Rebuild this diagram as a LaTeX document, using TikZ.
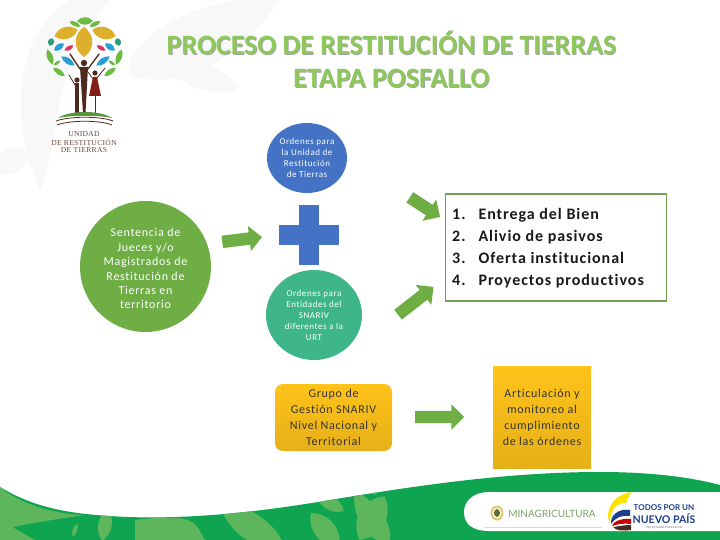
\documentclass[tikz,border=0pt]{standalone}
\usepackage{fontspec}
\setmainfont[LetterSpace=6,Ligatures=NoCommon]{Carlito}
\newfontfamily\titlefont{Carlito}
\newfontfamily\seriffont[LetterSpace=4]{Liberation Serif}
\newfontfamily\latofont{Lato}
\usetikzlibrary{shapes.arrows,shapes.geometric,shadings}
\definecolor{arrowgreen}{HTML}{6FAE45}
\definecolor{boxgreen}{HTML}{72A05A}
\definecolor{circblue}{HTML}{4472C4}
\definecolor{circteal}{HTML}{3FB58A}
\definecolor{titlegreen}{HTML}{8CC85A}
\definecolor{footgreen}{HTML}{0FA450}
\definecolor{footleaf}{HTML}{5DB55C}
\definecolor{gold}{HTML}{DDAF2A}
\definecolor{lgreen}{HTML}{6DBB45}
\definecolor{lblue}{HTML}{2A9FD6}
\definecolor{lred}{HTML}{D8345F}
\definecolor{lteal}{HTML}{2B9E78}
\definecolor{brownd}{HTML}{4E2A1E}
\definecolor{faint}{HTML}{F8F8F8}
\definecolor{navy}{HTML}{1D3E8C}
\definecolor{amber}{HTML}{FFC31A}
\newcommand{\leafshape}[6]{\fill[#6,shift={(#1,#2)},rotate=#3] (-#4,0) .. controls (-#4/2,#5) and (#4/2,#5) .. (#4,0) .. controls (#4/2,-#5) and (-#4/2,-#5) .. (-#4,0) -- cycle;}
\tikzset{
  blockarrow/.style={single arrow,fill=arrowgreen,draw=none,minimum height=#1,inner xsep=0pt,inner ysep=6pt,single arrow head extend=6.5pt,single arrow tip angle=90,outer sep=0pt,anchor=tip},
  bubble/.style={ellipse,inner sep=0pt,outer sep=0pt,text=white,align=center},
  titletext/.style={font=\titlefont\bfseries\fontsize{28}{33}\selectfont,text=titlegreen,align=center,inner sep=0pt},
  figline/.style={draw=brownd,line cap=round,line join=round},
  logotext/.style={font=\seriffont\fontsize{7.6}{8}\selectfont,text=brownd!85!white,inner sep=0pt},
  orangebox/.style={top color=amber,bottom color=amber!90!black,draw=none,align=center,inner sep=0pt,outer sep=0pt,text=black!80,font=\fontsize{12}{16}\selectfont},
}
\begin{document}
\begin{tikzpicture}[x=1pt,y=-1pt]
\useasboundingbox (0,0) rectangle (720,540);
\fill[white] (0,0) rectangle (720,540);
% faint background shapes
\fill[faint] (70,0) .. controls (20,30) and (5,110) .. (40,190) .. controls (60,150) and (50,60) .. (110,0) -- cycle;
\fill[faint] (240,0) .. controls (160,10) and (120,60) .. (130,75) .. controls (170,90) and (230,70) .. (280,0) -- cycle;
\fill[faint] (0,155) .. controls (10,145) and (20,145) .. (30,155) .. controls (20,175) and (10,175) .. (0,175) -- cycle;
\leafshape{200}{75}{-20}{40}{18}{faint}
% logo leaves
\leafshape{85}{21}{0}{8}{5}{lgreen}
\leafshape{75}{24}{-25}{6}{3}{lgreen}
\leafshape{95}{24}{25}{6}{3}{lgreen}
\leafshape{66}{33}{15}{12}{8}{gold}
\leafshape{104}{33}{-15}{12}{8}{gold}
\leafshape{84}{42}{90}{15}{11}{gold}
\leafshape{51}{42}{70}{4}{4}{lteal}
\leafshape{118}{42}{-70}{4}{4}{lteal}
\leafshape{59}{47}{35}{6}{4}{lblue}
\leafshape{110}{47}{-35}{6}{4}{lblue}
\leafshape{69}{48}{30}{5}{2.8}{lred}
\leafshape{101}{48}{-30}{5}{2.8}{lred}
\leafshape{68}{61}{-35}{8}{4}{lblue}
\leafshape{103}{61}{35}{8}{4}{lblue}
\leafshape{50}{57}{-70}{8}{4}{lgreen}
\leafshape{119}{57}{70}{8}{4}{lgreen}
\leafshape{59}{72}{-35}{7}{3.5}{lgreen}
\leafshape{110}{72}{35}{7}{3.5}{lgreen}
\leafshape{57}{63}{35}{4}{2}{lgreen}
\leafshape{112}{63}{-35}{4}{2}{lgreen}
% logo figures
\fill[brownd] (84,63) circle (3.2);
\fill[brownd] (80,67) -- (88,67) -- (85.5,113) -- (83,113) -- cycle;
\draw[figline,line width=1.3pt] (70,54) -- (80,69);
\draw[figline,line width=1.3pt] (99,54) -- (88,69);
\fill[brownd] (77,80) circle (2.6);
\fill[brownd] (75,83) -- (79,83) -- (79,113) -- (75,113) -- cycle;
\draw[figline,line width=0.8pt] (69,75) -- (75,85);
\fill[brownd] (95,73) circle (2.6);
\fill[brownd!70!red] (93,77) -- (97,77) -- (101,96) -- (89,96) -- cycle;
\draw[figline,line width=1pt] (95,96) -- (95,113);
\draw[figline,line width=0.8pt] (105,68) -- (97,78);
\draw[figline,line width=0.8pt] (88,72) -- (93,79);
% logo ground
\fill[lgreen!80!black] (58,118) .. controls (70,110) and (100,110) .. (112,118) .. controls (100,115) and (70,115) .. (58,118) -- cycle;
\draw[brownd,line width=0.8pt] (56,121) .. controls (70,116) and (100,116) .. (113,121);
\draw[brownd,line width=0.8pt] (57,125) .. controls (70,120) and (100,120) .. (112,125);
\node[logotext] (logoa) at (84,134) {UNIDAD};
\node[logotext] (logob) at (84,142) {DE RESTITUCIÓN};
\node[logotext] (logoc) at (84,150.5) {DE TIERRAS};
% title
\node[titletext,text=black!35] (titleshadow) at (392.4,60.4) {PROCESO DE RESTITUCIÓN DE TIERRAS\\ETAPA POSFALLO};
\node[titletext] (title) at (391.5,59.5) {PROCESO DE RESTITUCIÓN DE TIERRAS\\ETAPA POSFALLO};
% circles
\node[bubble,fill=arrowgreen,minimum width=131pt,minimum height=131pt,font=\fontsize{12}{14.4}\selectfont] (sentencia) at (145.5,266.5) {\rule{0pt}{13pt}Sentencia de\\Jueces y/o\\Magistrados de\\Restitución de\\Tierras en\\territorio};
\node[bubble,fill=circblue,minimum width=80pt,minimum height=70pt,font=\fontsize{9}{11.2}\selectfont] (urt) at (307,158) {Ordenes para\\la Unidad de\\Restitución\\de Tierras};
\node[bubble,fill=circteal,minimum width=96pt,minimum height=90pt,font=\fontsize{9}{11}\selectfont] (snariv) at (314,315) {Ordenes para\\Entidades del\\SNARIV\\diferentes a la\\URT};
% plus
\node[draw=none,fill=circblue,minimum width=60pt,minimum height=20pt,inner sep=0pt,outer sep=0pt] (plush) at (309,235) {};
\node[draw=none,fill=circblue,minimum width=20pt,minimum height=60pt,inner sep=0pt,outer sep=0pt] (plusv) at (309,235) {};
% list box
\node[draw=boxgreen,line width=1.8pt,fill=white,minimum width=221pt,minimum height=107pt,inner sep=0pt,outer sep=0pt] (listbox) at (556,247.5) {};
\node[anchor=west,inner sep=0pt,font=\bfseries\fontsize{16}{21.8}\selectfont,text=black!90] (lista) at (452,248) {%
\begin{tabular}{@{}l@{\hspace{13pt}}l@{}}
1.&Entrega del Bien\\
2.&Alivio de pasivos\\
3.&Oferta institucional\\
4.&Proyectos productivos
\end{tabular}};
% orange boxes
\node[orangebox,rounded corners=8pt,minimum width=117pt,minimum height=67pt] (grupo) at (333.5,417.5) {Grupo de\\Gestión SNARIV\\Nivel Nacional y\\Territorial};
\node[orangebox,minimum width=98pt,minimum height=102pt] (articula) at (542,417) {Articulación y\\monitoreo al\\cumplimiento\\de las órdenes};
% arrows
\node[blockarrow=40pt,rotate=7] (arra) at (262,237) {};
\node[blockarrow=36pt,rotate=-33] (arrb) at (440,217) {};
\node[blockarrow=45pt,rotate=38] (arrc) at (433.5,287) {};
\node[blockarrow=49pt] (arrd) at (464,417) {};
% footer
\fill[footgreen] (0,487) .. controls (30,505) and (60,513) .. (110,516) .. controls (180,521) and (260,512) .. (330,500) .. controls (420,485) and (510,472) .. (600,472) .. controls (650,472) and (690,477) .. (720,485) -- (720,540) -- (0,540) -- cycle;
\begin{scope}
\clip (0,487) .. controls (30,505) and (60,513) .. (110,516) .. controls (180,521) and (260,512) .. (330,500) .. controls (420,485) and (510,472) .. (600,472) -- (720,485) -- (720,540) -- (0,540) -- cycle;
\fill[footleaf] (0,487) .. controls (20,505) and (60,515) .. (85,515) .. controls (50,520) and (20,525) .. (0,530) -- cycle;
\fill[footleaf] (0,520) -- (35,540) -- (0,540) -- cycle;
\fill[footleaf] (135,520) .. controls (200,512) and (195,525) .. (205,540) -- (135,540) -- cycle;
\leafshape{105}{525}{80}{16}{9}{footleaf}
\leafshape{75}{530}{70}{7}{3}{footleaf}
\leafshape{253}{528}{-35}{40}{18}{footleaf}
\leafshape{325}{530}{-50}{22}{14}{footleaf}
\leafshape{330}{503}{-30}{16}{9}{footleaf}
\leafshape{372}{518}{60}{25}{18}{footleaf}
\leafshape{373}{521}{-50}{26}{15}{footleaf}
\leafshape{370}{518}{-60}{30}{14}{footleaf}
\leafshape{365}{483}{-45}{16}{9}{footleaf}
\end{scope}
% white band
\fill[white] (720,492) -- (490,492) .. controls (472,492) and (464,502) .. (464,512) .. controls (464,524) and (472,531) .. (490,531) -- (720,531) -- cycle;
\draw[black!15,line width=0.5pt] (484,527) -- (602,527);
% ministry emblem and name
\fill[gold!70!white] (497,513) ellipse (6.5 and 7.5);
\fill[white] (497,513) ellipse (4.5 and 5.5);
\fill[lgreen!50!brownd] (497,513) ellipse (3 and 4);
\node[font=\latofont\fontsize{10}{12}\selectfont,text=black!35!lgreen!70!white,inner sep=0pt] (minag) at (552,513.5) {MINAGRICULTURA};
% flag swoosh
\fill[yellow!85!orange] (631,492) .. controls (612,495) and (604,512) .. (610,524) .. controls (609,510) and (618,502) .. (626,503) -- cycle;
\fill[navy] (630,510) .. controls (618,508) and (610,516) .. (611,524) .. controls (616,517) and (622,515) .. (630,516) -- cycle;
\fill[red!80!black] (631,519) .. controls (620,518) and (613,522) .. (612,526) .. controls (618,524) and (624,523) .. (631,524) -- cycle;
\fill[brownd] (631,525) .. controls (622,525) and (616,527) .. (613,527) .. controls (616,531) and (624,531) .. (631,530) -- cycle;
\node[font=\latofont\bfseries\fontsize{8}{9}\selectfont,text=navy,inner sep=0pt] (todos) at (664,508) {TODOS POR UN};
\node[font=\latofont\bfseries\fontsize{10.6}{13}\selectfont,text=navy,inner sep=0pt] (nuevo) at (664,518.5) {NUEVO PAÍS};
\node[font=\fontsize{3}{3}\selectfont,text=black!60,inner sep=0pt] (paz) at (664,527.5) {PAZ  EQUIDAD  EDUCACIÓN};
\end{tikzpicture}
\end{document}
